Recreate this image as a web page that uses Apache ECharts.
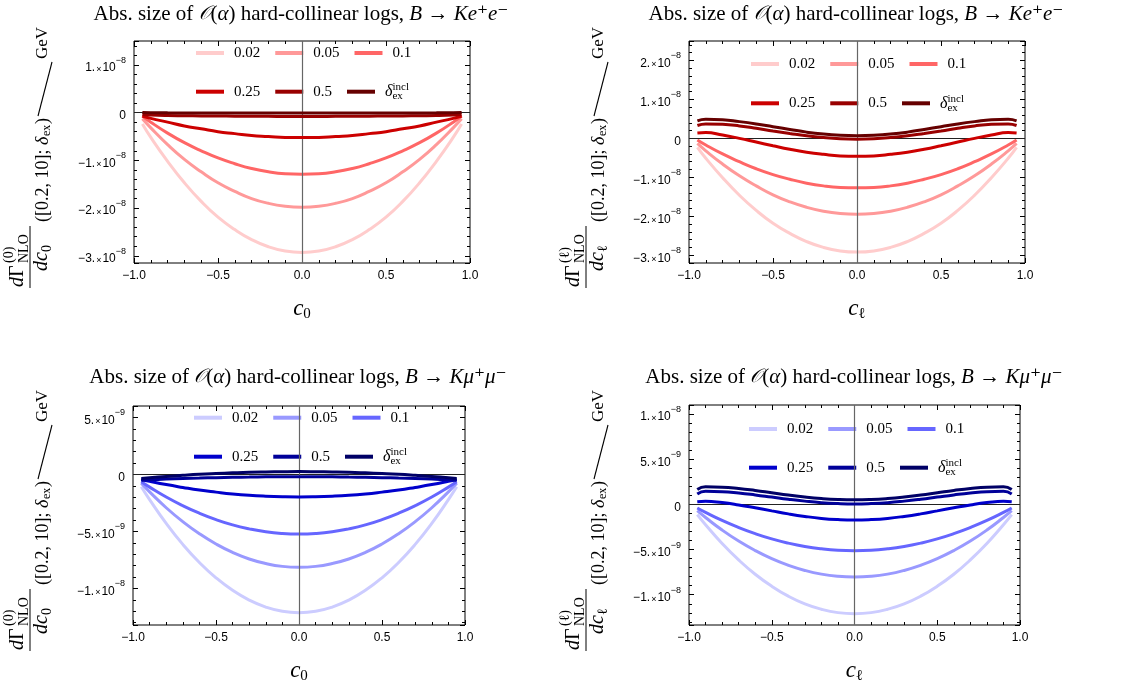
<!DOCTYPE html>
<html><head><meta charset="utf-8">
<script src="https://cdn.jsdelivr.net/npm/echarts@6/dist/echarts.min.js"></script>
<style>html,body{margin:0;padding:0;background:#fff}#c{width:1121px;height:687px}</style>
</head><body><div id="c"></div>
<script>
// x positions (cosine of angle)
const X = [-0.95,-0.9,-0.8,-0.7,-0.6,-0.5,-0.4,-0.3,-0.2,-0.1,0,0.1,0.2,0.3,0.4,0.5,0.6,0.7,0.8,0.9,0.95];
// all values in units of 1e-8 GeV^-1
// Panel 1: B -> K e+ e-, c_0
const p1_002 = [-0.24,-0.52,-1.02,-1.47,-1.86,-2.19,-2.45,-2.66,-2.81,-2.90,-2.93,-2.90,-2.81,-2.66,-2.45,-2.19,-1.86,-1.47,-1.02,-0.52,-0.24];
const p1_005 = [-0.13,-0.32,-0.67,-0.98,-1.24,-1.47,-1.65,-1.80,-1.90,-1.96,-1.98,-1.96,-1.90,-1.80,-1.65,-1.47,-1.24,-0.98,-0.67,-0.32,-0.13];
const p1_01  = [-0.07,-0.20,-0.43,-0.63,-0.80,-0.95,-1.07,-1.17,-1.24,-1.28,-1.29,-1.28,-1.24,-1.17,-1.07,-0.95,-0.80,-0.63,-0.43,-0.20,-0.07];
const p1_025 = [-0.07,-0.12,-0.20,-0.28,-0.34,-0.40,-0.44,-0.48,-0.50,-0.52,-0.52,-0.52,-0.50,-0.48,-0.44,-0.40,-0.34,-0.28,-0.20,-0.12,-0.07];
const p1_05  = [-0.04,-0.05,-0.06,-0.065,-0.07,-0.072,-0.075,-0.077,-0.078,-0.08,-0.08,-0.08,-0.078,-0.077,-0.075,-0.072,-0.07,-0.065,-0.06,-0.05,-0.04];
const p1_inc = [0.0,-0.003,-0.005,-0.006,-0.007,-0.008,-0.009,-0.01,-0.01,-0.01,-0.01,-0.01,-0.01,-0.01,-0.009,-0.008,-0.007,-0.006,-0.005,-0.003,0.0];
// Panel 2: B -> K e+ e-, c_l
const p2_002 = [-0.23,-0.51,-1.01,-1.46,-1.85,-2.18,-2.44,-2.65,-2.80,-2.89,-2.92,-2.89,-2.80,-2.65,-2.44,-2.18,-1.85,-1.46,-1.01,-0.51,-0.23];
const p2_005 = [-0.13,-0.32,-0.66,-0.96,-1.22,-1.45,-1.63,-1.77,-1.87,-1.93,-1.95,-1.93,-1.87,-1.77,-1.63,-1.45,-1.22,-0.96,-0.66,-0.32,-0.13];
const p2_01  = [-0.04,-0.17,-0.40,-0.60,-0.78,-0.93,-1.05,-1.15,-1.22,-1.26,-1.27,-1.26,-1.22,-1.15,-1.05,-0.93,-0.78,-0.60,-0.40,-0.17,-0.04];
const p2_025 = [0.14,0.15,0.085,0.0,-0.095,-0.19,-0.28,-0.355,-0.41,-0.45,-0.46,-0.45,-0.41,-0.355,-0.28,-0.19,-0.095,0.0,0.085,0.15,0.14];
const p2_05  = [0.33,0.37,0.36,0.32,0.26,0.19,0.125,0.065,0.02,-0.01,-0.02,-0.01,0.02,0.065,0.125,0.19,0.26,0.32,0.36,0.37,0.33];
const p2_inc = [0.45,0.49,0.48,0.43,0.37,0.30,0.23,0.16,0.11,0.08,0.07,0.08,0.11,0.16,0.23,0.30,0.37,0.43,0.48,0.49,0.45];
// Panel 3: B -> K mu+ mu-, c_0
const p3_002 = [-0.108,-0.221,-0.429,-0.613,-0.772,-0.906,-1.016,-1.102,-1.163,-1.200,-1.212,-1.200,-1.163,-1.102,-1.016,-0.906,-0.772,-0.613,-0.429,-0.221,-0.108];
const p3_005 = [-0.078,-0.153,-0.292,-0.414,-0.520,-0.610,-0.684,-0.741,-0.781,-0.806,-0.814,-0.806,-0.781,-0.741,-0.684,-0.610,-0.520,-0.414,-0.292,-0.153,-0.078];
const p3_01  = [-0.064,-0.111,-0.198,-0.274,-0.340,-0.396,-0.442,-0.477,-0.503,-0.518,-0.523,-0.518,-0.503,-0.477,-0.442,-0.396,-0.340,-0.274,-0.198,-0.111,-0.064];
const p3_025 = [-0.044,-0.060,-0.089,-0.114,-0.137,-0.155,-0.171,-0.183,-0.191,-0.196,-0.198,-0.196,-0.191,-0.183,-0.171,-0.155,-0.137,-0.114,-0.089,-0.060,-0.044];
const p3_05  = [-0.050,-0.047,-0.041,-0.036,-0.032,-0.028,-0.025,-0.023,-0.021,-0.020,-0.020,-0.020,-0.021,-0.023,-0.025,-0.028,-0.032,-0.036,-0.041,-0.047,-0.050];
const p3_inc = [-0.035,-0.029,-0.018,-0.008,0.001,0.008,0.014,0.019,0.022,0.024,0.025,0.024,0.022,0.019,0.014,0.008,0.001,-0.008,-0.018,-0.029,-0.035];
// Panel 4: B -> K mu+ mu-, c_l
const p4_002 = [-0.114,-0.226,-0.433,-0.615,-0.773,-0.906,-1.016,-1.101,-1.161,-1.198,-1.210,-1.198,-1.161,-1.101,-1.016,-0.906,-0.773,-0.615,-0.433,-0.226,-0.114];
const p4_005 = [-0.070,-0.145,-0.284,-0.406,-0.511,-0.601,-0.674,-0.731,-0.772,-0.796,-0.804,-0.796,-0.772,-0.731,-0.674,-0.601,-0.511,-0.406,-0.284,-0.145,-0.070];
const p4_01  = [-0.040,-0.089,-0.178,-0.256,-0.324,-0.382,-0.429,-0.466,-0.492,-0.508,-0.513,-0.508,-0.492,-0.466,-0.429,-0.382,-0.324,-0.256,-0.178,-0.089,-0.040];
const p4_025 = [0.030,0.035,0.020,-0.006,-0.038,-0.072,-0.105,-0.133,-0.155,-0.168,-0.173,-0.168,-0.155,-0.133,-0.105,-0.072,-0.038,-0.006,0.020,0.035,0.030];
const p4_05  = [0.115,0.145,0.141,0.126,0.105,0.081,0.057,0.036,0.019,0.009,0.005,0.009,0.019,0.036,0.057,0.081,0.105,0.126,0.141,0.145,0.115];
const p4_inc = [0.165,0.195,0.191,0.176,0.154,0.129,0.104,0.082,0.065,0.054,0.050,0.054,0.065,0.082,0.104,0.129,0.154,0.176,0.191,0.195,0.165];

const NAMES = ['0.02','0.05','0.1','0.25','0.5','incl'];
const REDS  = ['#ffcccc','#ff9999','#ff6666','#cc0000','#990000','#660000'];
const BLUES = ['#ccccff','#9999ff','#6666ff','#0000cc','#000099','#000066'];
const PANEL_DATA = [
  [p1_002,p1_005,p1_01,p1_025,p1_05,p1_inc],
  [p2_002,p2_005,p2_01,p2_025,p2_05,p2_inc],
  [p3_002,p3_005,p3_01,p3_025,p3_05,p3_inc],
  [p4_002,p4_005,p4_01,p4_025,p4_05,p4_inc]
];
const PANEL_COLORS = [REDS, REDS, BLUES, BLUES];
const PANEL_XSUB = ['0','ℓ','0','ℓ'];
const PANEL_LEPTON = ['e','e','μ','μ'];

const SERIF = "'Liberation Serif','DejaVu Serif',serif";
const SANS = "'Liberation Sans','DejaVu Sans',sans-serif";

const LAYOUT = [
  {left:134, top:41, width:336, height:222, ymin:-3.15, ymax:1.5, split:5, legLeft:196, legRows:[53,91.7], title:[301,14], lab:[30,288]},
  {left:689, top:41, width:336, height:222, ymin:-3.2, ymax:2.5, split:6, legLeft:751, legRows:[64,103.3], title:[856,14], lab:[586,288]},
  {left:133, top:406, width:332, height:219, ymin:-1.32, ymax:0.6, split:4, legLeft:194, legRows:[417.7,456.7], title:[298,377], lab:[30,651]},
  {left:689, top:405, width:331, height:220, ymin:-1.335, ymax:1.1, split:5, legLeft:749, legRows:[429,467.7], title:[854,377], lab:[586,651]}
];

function yFmt(v) {
  if (Math.abs(v) < 1e-6) return '{n|0}';
  const real = v * 1e-8;
  const e = Math.floor(Math.log10(Math.abs(real)) + 1e-9);
  const m = Math.round(real / Math.pow(10, e));
  const ms = (m < 0 ? '−' : '') + Math.abs(m) + '.';
  return '{n|' + ms + '}{x|×}{n|10}{s|−' + Math.abs(e) + '}';
}
function xFmt(v) { return (Math.abs(v) < 1e-9 ? 0 : v).toFixed(1).replace('-', '−'); }

const grids = [], xAxes = [], yAxes = [], series = [], legends = [], graphics = [];

LAYOUT.forEach((L, p) => {
  grids.push({left:L.left, top:L.top, width:L.width, height:L.height, show:true, borderColor:'#000', borderWidth:1, backgroundColor:'transparent', containLabel:false});
  const xb = {type:'value', gridIndex:p, min:-1, max:1, interval:0.5,
    axisLine:{show:false, onZero:false}, splitLine:{show:false},
    axisTick:{show:true, inside:true, length:5, lineStyle:{color:'#000'}},
    minorTick:{show:true, splitNumber:5, length:3, lineStyle:{color:'#000'}},
    minorSplitLine:{show:false}};
  xAxes.push(Object.assign({}, xb, {position:'bottom',
    axisLabel:{show:true, margin:7, formatter:xFmt, color:'#000', fontFamily:SANS, fontSize:12},
    name:'{i|c}{s|' + PANEL_XSUB[p] + '}', nameLocation:'middle', nameGap:33,
    nameTextStyle:{fontFamily:SERIF, fontSize:22, color:'#000', lineHeight:26,
      rich:{i:{fontStyle:'italic', fontFamily:SERIF, fontSize:23, lineHeight:26, verticalAlign:'middle'},
            s:{fontFamily:SERIF, fontSize:15, lineHeight:15, verticalAlign:'bottom'}}}}));
  xAxes.push(Object.assign({}, xb, {position:'top', axisLabel:{show:false}}));
  const yb = {type:'value', gridIndex:p, min:L.ymin, max:L.ymax, splitNumber:L.split,
    axisLine:{show:false, onZero:false}, splitLine:{show:false},
    axisTick:{show:true, inside:true, length:5, lineStyle:{color:'#000'}},
    minorTick:{show:true, splitNumber:5, length:3, lineStyle:{color:'#000'}},
    minorSplitLine:{show:false}};
  yAxes.push(Object.assign({}, yb, {position:'left',
    axisLabel:{show:true, margin:8, showMinLabel:false, showMaxLabel:false, formatter:yFmt,
      rich:{n:{fontFamily:SANS, fontSize:12, color:'#000', lineHeight:18, verticalAlign:'bottom'},
            x:{fontFamily:SANS, fontSize:9, color:'#000', lineHeight:18, verticalAlign:'bottom', padding:[0,1,0,1]},
            s:{fontFamily:SANS, fontSize:9, color:'#000', lineHeight:10, verticalAlign:'top'}}}}));
  yAxes.push(Object.assign({}, yb, {position:'right', axisLabel:{show:false}}));

  // zero axes (drawn behind curves)
  series.push({type:'line', name:'axes', xAxisIndex:2*p, yAxisIndex:2*p, data:[], z:1, silent:true,
    markLine:{silent:true, symbol:'none', animation:false, label:{show:false},
      lineStyle:{color:'#222', width:1, type:'solid'},
      data:[{yAxis:0}, {xAxis:0, lineStyle:{color:'#666', width:1.2, type:'solid'}}]}});

  const cols = PANEL_COLORS[p];
  PANEL_DATA[p].forEach((arr, k) => {
    series.push({type:'line', name:NAMES[k], xAxisIndex:2*p, yAxisIndex:2*p,
      data: X.map((x, i) => [x, arr[i]]), smooth:true, showSymbol:false, symbol:'none',
      lineStyle:{color:cols[k], width:3}, itemStyle:{color:cols[k]}, z:2+k, animation:false});
  });

  // legends: two rows
  [[0,1,2],[3,4,5]].forEach((row, r) => {
    legends.push({orient:'horizontal', left:L.legLeft, top:L.legRows[r]-10, padding:0,
      itemGap:15, itemWidth:28, itemHeight:4, icon:'rect', selectedMode:false,
      data: row.map(k => ({name:NAMES[k], icon:'rect', itemStyle:{color:cols[k], borderWidth:0}})),
      formatter: name => name === 'incl' ? '{d|δ}{ex|ex}{in|incl}' : '{n|' + name + '}',
      textStyle:{fontFamily:SERIF, fontSize:15, color:'#000', padding:[0,0,0,5], lineHeight:20,
        rich:{n:{fontFamily:SERIF, fontSize:15, lineHeight:20, color:'#000'},
              d:{fontFamily:SERIF, fontSize:16, fontStyle:'italic', lineHeight:20, color:'#000'},
              ex:{fontFamily:SERIF, fontSize:11, lineHeight:11, width:0.1, align:'left', verticalAlign:'bottom', color:'#000'},
              in:{fontFamily:SERIF, fontSize:11, lineHeight:11, verticalAlign:'top', color:'#000'}}}});
  });

  // panel title
  const lep = PANEL_LEPTON[p];
  graphics.push({type:'text', x:L.title[0], y:L.title[1], silent:true,
    style:{text:'{t|Abs. size of }{c|𝒪}{t|(}{i|α}{t|) hard-collinear logs, }{i|B}{t| → }{i|K' + lep + '}{t|⁺}{i|' + lep + '}{t|⁻}',
      align:'center', verticalAlign:'middle', textAlign:'center', textVerticalAlign:'middle',
      fontFamily:SERIF, fontSize:21, fill:'#000',
      rich:{t:{fontFamily:SERIF, fontSize:21, fill:'#000'},
            c:{fontFamily:"'DejaVu Serif',serif", fontSize:19, fontStyle:'italic', fill:'#000'},
            i:{fontFamily:SERIF, fontSize:21, fontStyle:'italic', fill:'#000'}}}});

  // rotated y-axis label
  const sym = PANEL_XSUB[p];
  const T = (x, y, text, size, extra) => ({type:'text', x:x, y:y, silent:true,
    style:Object.assign({text:text, fontSize:size, fontFamily:SERIF, fill:'#000',
      align:'left', verticalAlign:'middle', textAlign:'left', textVerticalAlign:'middle'}, extra || {})});
  graphics.push({type:'group', x:L.lab[0], y:L.lab[1], rotation:Math.PI/2, silent:true, children:[
    T(1, -12, 'd', 20, {fontStyle:'italic'}),
    T(11, -12, 'Γ', 20),
    T(25, -21, '(' + sym + ')', 14),
    T(25, -6, 'NLO', 14),
    {type:'line', silent:true, shape:{x1:0, y1:0, x2:62, y2:0}, style:{stroke:'#000', lineWidth:1}},
    T(17, 12, 'd', 20, {fontStyle:'italic'}),
    T(27, 12, 'c', 20, {fontStyle:'italic'}),
    T(36, 17, sym, 14),
    T(66, 13, '([0.2, 10]; ', 18),
    T(143, 13, 'δ', 18, {fontStyle:'italic'}),
    T(152, 17, 'ex', 12),
    T(164, 13, ')', 18),
    {type:'line', silent:true, shape:{x1:172, y1:8, x2:226, y2:22}, style:{stroke:'#000', lineWidth:1.1}},
    T(229, 13, 'GeV', 17)
  ]});
});

const chart = echarts.init(document.getElementById('c'), null, {renderer:'canvas'});
chart.setOption({
  animation:false,
  backgroundColor:'#fff',
  grid:grids,
  xAxis:xAxes,
  yAxis:yAxes,
  legend:legends,
  series:series,
  graphic:{elements:graphics}
});
</script></body></html>
